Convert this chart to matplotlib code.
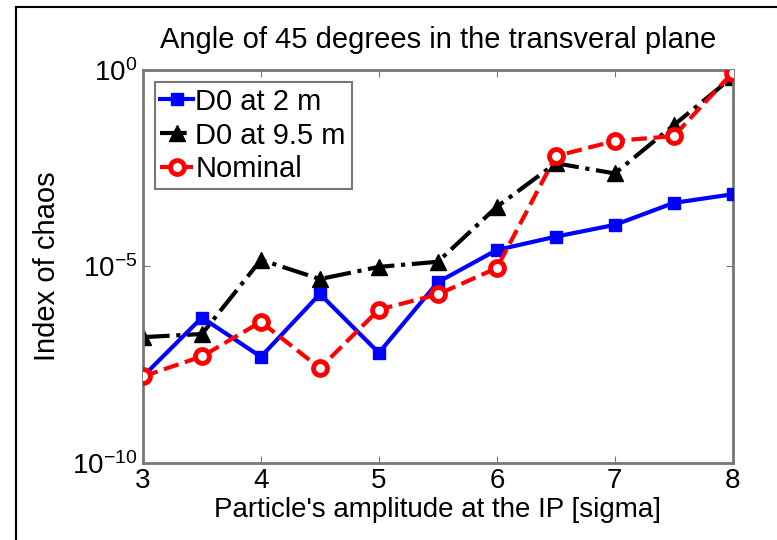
import numpy as np
import matplotlib
matplotlib.use('Agg')
import matplotlib.pyplot as plt
from matplotlib.lines import Line2D

plt.rcParams['font.family'] = ['Liberation Sans', 'DejaVu Sans']

amplitude = [3, 3.5, 4, 4.5, 5, 5.5, 6, 6.5, 7, 7.5, 8]

# exponents (value = 10**e)
d0_2m_exp = [-7.8, -6.3, -7.3, -5.7, -7.2, -5.4, -4.58, -4.24, -3.94, -3.38, -3.16]
d0_95m_exp = [-6.8, -6.72, -4.83, -5.32, -5.01, -4.88, -3.48, -2.37, -2.63, -1.4, -0.17]
nominal_exp = [-7.8, -7.29, -6.41, -7.59, -6.1, -5.71, -5.04, -2.19, -1.8, -1.68, -0.06]

d0_2m = 10.0 ** np.array(d0_2m_exp)
d0_95m = 10.0 ** np.array(d0_95m_exp)
nominal = 10.0 ** np.array(nominal_exp)

fs = 21

fig = plt.figure(figsize=(7.77, 5.40), dpi=100)
ax = fig.add_axes([0.184, 0.143, 0.759, 0.727])

ax.plot(amplitude, d0_2m, '-s', color='blue', lw=3, ms=8,
        label='D0 at 2 m', zorder=3)
ax.plot(amplitude, d0_95m, '-.^', color='black', lw=3, ms=11,
        label='D0 at 9.5 m', zorder=2)
ax.plot(amplitude, nominal, '--o', color='red', lw=3, ms=10,
        mfc='white', mew=3.5, label='Nominal', zorder=4)

ax.set_yscale('log')
ax.set_xlim(3, 8)
ax.set_ylim(1e-10, 1e0)
ax.set_xticks([3, 4, 5, 6, 7, 8])
ax.set_yticks([1e-10, 1e-5, 1e0])
ax.yaxis.set_minor_locator(matplotlib.ticker.NullLocator())
ax.tick_params(direction='in', length=5, color='#777777', labelsize=20,
               top=True, right=True, pad=4)
for s in ax.spines.values():
    s.set_color('#777777')
    s.set_linewidth(2)

ax.set_title('Angle of 45 degrees in the transveral plane', fontsize=fs, pad=16)
ax.set_xlabel("Particle's amplitude at the IP [sigma]", fontsize=20, labelpad=2)
ax.set_ylabel('Index of chaos', fontsize=fs, labelpad=8)

leg = ax.legend(loc='upper left', fontsize=fs, handlelength=1.1,
                handletextpad=0.1, borderaxespad=0.4, labelspacing=0.2,
                fancybox=False, framealpha=1, borderpad=0.2)
leg.get_frame().set_edgecolor('#777777')
leg.get_frame().set_linewidth(1.5)

# border of the original screenshot (left and top edges)
fig.add_artist(Line2D([0.021, 0.021], [0, 0.987], color='black', lw=1.5))
fig.add_artist(Line2D([0.021, 1.0], [0.987, 0.987], color='black', lw=1.5))

fig.savefig('out.png', dpi=100)
